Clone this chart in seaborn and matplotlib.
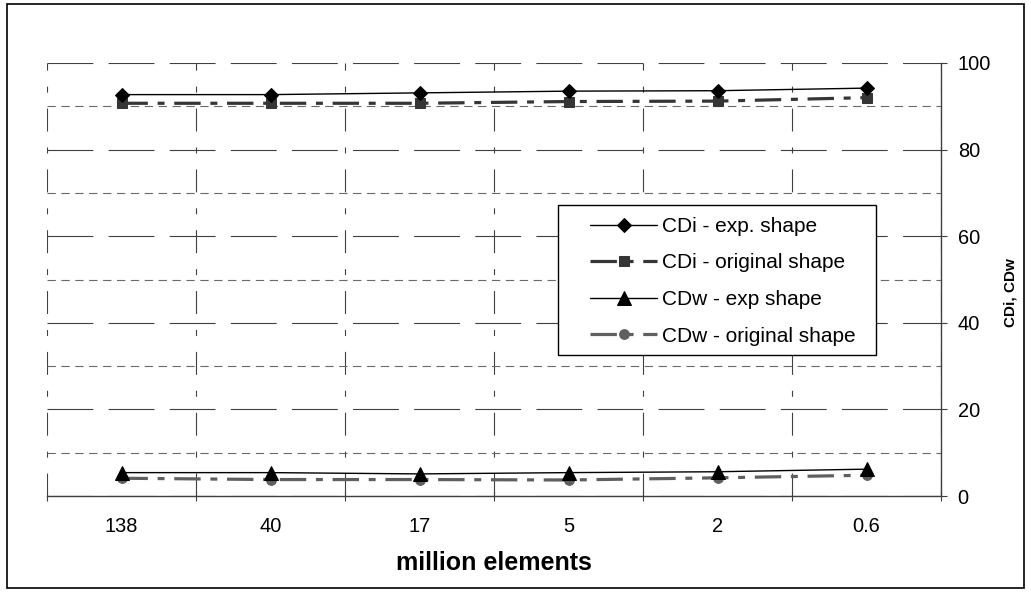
import numpy as np
import pandas as pd
import matplotlib
matplotlib.use("Agg")
import matplotlib.pyplot as plt
import seaborn as sns
from matplotlib.patches import Rectangle
from matplotlib.ticker import FixedLocator, FixedFormatter, NullFormatter

# ---- data ----
categories = ["138", "40", "17", "5", "2", "0.6"]
cdi_exp = [92.7, 92.7, 93.1, 93.5, 93.6, 94.2]
cdi_orig = [90.7, 90.7, 90.7, 91.1, 91.2, 92.0]
cdw_exp = [5.4, 5.4, 5.1, 5.4, 5.6, 6.2]
cdw_orig = [4.1, 3.8, 3.8, 3.7, 4.2, 4.8]
series_labels = ["CDi - exp. shape", "CDi - original shape",
                 "CDw - exp shape", "CDw - original shape"]
y_major = [0, 20, 40, 60, 80, 100]
y_minor = [10, 30, 50, 70, 90]
x_label = "million elements"
y_label = "CDi, CDw"

sns.set_style("white")
plt.rcParams["font.family"] = ["Liberation Sans", "DejaVu Sans"]
plt.rcParams["lines.scale_dashes"] = False
plt.rcParams["text.color"] = "black"
plt.rcParams["axes.labelcolor"] = "black"
plt.rcParams["xtick.color"] = "black"
plt.rcParams["ytick.color"] = "black"

W, H = 1031, 592
fig = plt.figure(figsize=(W / 100, H / 100), dpi=100)
fig.patch.set_facecolor("white")
L, R, T, B = 47, 941, 63, 496
ax = fig.add_axes([L / W, 1 - B / H, (R - L) / W, (B - T) / H])
ax.set_facecolor("white")

xpos = np.arange(len(categories))
df = pd.DataFrame({"x": xpos, "cdi_exp": cdi_exp, "cdi_orig": cdi_orig,
                   "cdw_exp": cdw_exp, "cdw_orig": cdw_orig})

dashdot = (0, (19, 7, 5, 7))
sns.lineplot(data=df, x="x", y="cdi_exp", ax=ax, color="black", lw=1.0,
             marker="D", markersize=7.3, markeredgecolor="black",
             markerfacecolor="black", label=series_labels[0], zorder=5)
sns.lineplot(data=df, x="x", y="cdi_orig", ax=ax, color="#353535", lw=2.3,
             linestyle=dashdot, marker="s", markersize=6.5,
             markeredgecolor="#353535", markerfacecolor="#353535",
             label=series_labels[1], zorder=4)
sns.lineplot(data=df, x="x", y="cdw_exp", ax=ax, color="black", lw=1.0,
             marker="^", markersize=10, markeredgecolor="black",
             markerfacecolor="black", label=series_labels[2], zorder=5)
sns.lineplot(data=df, x="x", y="cdw_orig", ax=ax, color="#5f5f5f", lw=2.3,
             linestyle=dashdot, marker="o", markersize=7,
             markeredgecolor="#5f5f5f", markerfacecolor="#5f5f5f",
             label=series_labels[3], zorder=4)

# ---- x axis: tick marks at category boundaries, labels at centres ----
ax.set_xlim(-0.5, len(categories) - 0.5)
ax.xaxis.set_major_locator(FixedLocator(np.arange(-0.5, len(categories), 1.0)))
ax.xaxis.set_major_formatter(NullFormatter())
ax.xaxis.set_minor_locator(FixedLocator(xpos))
ax.xaxis.set_minor_formatter(FixedFormatter(categories))
ax.tick_params(axis="x", which="major", direction="inout", length=7,
               width=0.8, color="#404040", bottom=True, top=False)
ax.tick_params(axis="x", which="minor", length=0, pad=15, labelsize=14.4,
               bottom=True, top=False)

# ---- y axis on the right ----
ax.set_ylim(0, 100)
ax.yaxis.set_major_locator(FixedLocator(y_major))
ax.yaxis.set_minor_locator(FixedLocator(y_minor))
ax.yaxis.tick_right()
ax.yaxis.set_label_position("right")
ax.tick_params(axis="y", which="major", direction="out", length=4.5,
               width=0.8, color="#404040", pad=7.5, labelsize=14.4,
               right=True, left=False)
ax.tick_params(axis="y", which="minor", length=0, right=False, left=False)

# ---- grid ----
ax.set_axisbelow(True)
ax.grid(axis="x", which="major", linestyle=(0, (16.5, 11.5, 4.3, 11.5)),
        color="#404040", lw=0.8)
ax.grid(axis="y", which="major", linestyle=(0, (33, 11)),
        color="#404040", lw=0.8)
ax.grid(axis="y", which="minor", linestyle=(0, (6, 4)),
        color="#6a6a6a", lw=0.8)

for s in ["left", "top"]:
    ax.spines[s].set_visible(False)
for s in ["right", "bottom"]:
    ax.spines[s].set_visible(True)
    ax.spines[s].set_color("#404040")
    ax.spines[s].set_linewidth(1.0)

# ---- labels ----
ax.set_xlabel(x_label, fontsize=18, fontweight="bold", va="center")
ax.xaxis.set_label_coords(0.5, (B - 563) / (B - T))
ax.set_ylabel(y_label, fontsize=11, fontweight="bold")
ax.yaxis.set_label_coords((1003 - L) / (R - L), (B - 292.5) / (B - T))

# ---- legend (frame drawn separately to match its padding) ----
frame = Rectangle(((558 - L) / (R - L), (B - 355) / (B - T)),
                  (876 - 558) / (R - L), (355 - 205) / (B - T),
                  transform=ax.transAxes, facecolor="white",
                  edgecolor="black", lw=1.0, zorder=9, clip_on=False)
ax.add_patch(frame)
leg = ax.legend(loc="upper left",
                bbox_to_anchor=((590 - L) / (R - L), (B - 217) / (B - T)),
                borderaxespad=0, borderpad=0, frameon=False, fontsize=15,
                handlelength=3.22, handletextpad=0.24, labelspacing=0.84)
leg.set_zorder(10)

# ---- outer border ----
fig.patches.append(Rectangle((7 / W, 4 / H), 1017 / W, 584 / H,
                             transform=fig.transFigure, fill=False,
                             edgecolor="black", lw=1.2))

fig.savefig("out.png", dpi=100)
